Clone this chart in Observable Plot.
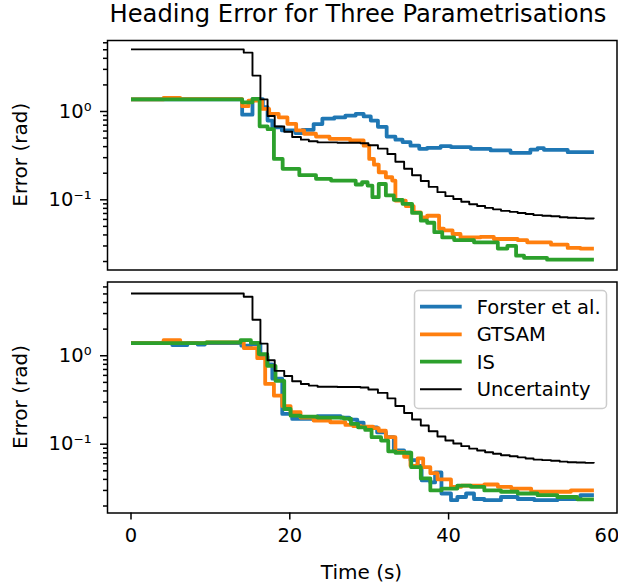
<!DOCTYPE html>
<html><head><meta charset="utf-8">
<script src="https://cdn.jsdelivr.net/npm/d3@7"></script>
<script src="https://cdn.jsdelivr.net/npm/@observablehq/plot@0.6"></script>
<style>
html,body{margin:0;padding:0;background:white;}
#chart{position:relative;width:618px;height:586px;overflow:hidden;font-family:"DejaVu Sans";}
#chart svg{position:absolute;left:0;}
</style></head><body><div id="chart"></div>
<script>
const seriesNames = ["Forster et al.", "GTSAM", "IS", "Uncertainty"];
const seriesColors = ["#1f77b4", "#ff7f0e", "#2ca02c", "black"];
const xTicks = [0, 20, 40, 60];
const yMajorTicks = [0.1, 1];
const yMinorTicks = [0.02,0.03,0.04,0.05,0.06,0.07,0.08,0.09,0.2,0.3,0.4,0.5,0.6,0.7,0.8,0.9,2,3,4,5,6];
const yTickLabels = ["10\u207B\u00B9", "10\u2070"];

// time (s), heading error (rad)
const uncertainty = [[0,5.05],[14.2,4.64],[15.3,2.55],[16.3,1.37],[17.2,0.89],[18.1,0.675],[19.3,0.59],[20.3,0.515],[21.4,0.48],[22.4,0.46],[23.5,0.447],[26.0,0.443],[28.9,0.437],[29.9,0.415],[31.1,0.38],[32.3,0.33],[33.3,0.27],[34.4,0.225],[35.4,0.19],[36.5,0.163],[37.5,0.14],[38.6,0.122],[39.6,0.11],[40.6,0.102],[41.6,0.095],[42.6,0.089],[43.6,0.085],[44.6,0.081],[45.6,0.078],[46.6,0.075],[47.7,0.073],[48.7,0.071],[49.7,0.069],[50.7,0.067],[51.8,0.066],[52.9,0.065],[54.0,0.0635],[55.0,0.0625],[56.1,0.062],[57.2,0.0615],[58.3,0.061]];

const topForster = [[0,1.37],[14.0,0.92],[15.3,1.38],[16.6,1.12],[17.2,0.79],[17.8,0.66],[19.0,0.61],[20.7,0.57],[21.6,0.62],[23.0,0.72],[24.1,0.83],[25.6,0.86],[27.0,0.90],[28.3,0.94],[29.3,0.88],[30.2,0.79],[31.1,0.67],[32.2,0.52],[33.3,0.48],[34.2,0.45],[35.2,0.41],[36.3,0.378],[37.3,0.388],[39.0,0.405],[40.3,0.395],[42.8,0.378],[45.3,0.362],[47.8,0.34],[50.3,0.37],[51.2,0.384],[52.0,0.368],[55.0,0.346],[58.3,0.346]];
const topGTSAM = [[0,1.37],[4.1,1.43],[6.2,1.38],[14.0,1.15],[14.8,1.33],[16.5,1.07],[17.4,0.94],[18.6,0.86],[19.7,0.725],[20.8,0.61],[21.8,0.56],[23.3,0.52],[25.0,0.49],[27.6,0.47],[29.3,0.41],[30.0,0.29],[30.6,0.25],[31.2,0.205],[32.1,0.18],[32.9,0.165],[33.3,0.098],[34.6,0.085],[35.6,0.072],[36.5,0.063],[37.3,0.066],[38.8,0.047],[39.4,0.045],[40.5,0.041],[41.5,0.0375],[44.0,0.038],[45.7,0.036],[48.7,0.035],[49.9,0.033],[52.9,0.031],[55.0,0.0285],[56.6,0.028],[58.3,0.028]];
const topIS = [[0,1.37],[14.0,1.27],[15.3,1.39],[16.2,0.68],[17.2,0.63],[18.0,0.29],[19.1,0.224],[21.2,0.19],[23.3,0.173],[25.2,0.165],[28.3,0.149],[29.1,0.158],[29.8,0.145],[30.4,0.107],[31.2,0.151],[32.1,0.112],[33.1,0.1],[34.2,0.09],[35.4,0.071],[36.5,0.058],[37.3,0.055],[38.2,0.043],[39.2,0.0375],[40.7,0.035],[43.2,0.033],[46.2,0.028],[47.4,0.030],[48.5,0.0233],[49.5,0.022],[52.4,0.021],[58.3,0.021]];

const bottomForster = [[0,1.39],[5.2,1.32],[7.1,1.39],[8.4,1.34],[9.3,1.39],[13.9,1.30],[15.1,1.355],[16.3,0.98],[17.2,0.80],[17.8,0.55],[19.05,0.22],[20.3,0.193],[23.5,0.208],[26.4,0.2],[27.5,0.19],[28.5,0.175],[29.3,0.155],[31.0,0.136],[32.1,0.12],[33.1,0.085],[34.4,0.08],[35.2,0.066],[36.1,0.057],[36.6,0.039],[37.7,0.037],[38.3,0.048],[39.1,0.0277],[40.3,0.0233],[41.1,0.0253],[42.2,0.0277],[43.2,0.024],[44.5,0.0233],[46.6,0.0253],[48.7,0.024],[50.8,0.0233],[53.7,0.024],[56.6,0.0265],[58.3,0.0265]];
const bottomGTSAM = [[0,1.39],[4.1,1.50],[6.2,1.39],[9.5,1.42],[14.2,1.22],[15.9,0.94],[16.9,0.48],[18.0,0.354],[19.05,0.27],[20.1,0.23],[21.35,0.20],[23.0,0.185],[25.1,0.177],[27.0,0.165],[28.0,0.16],[29.0,0.158],[30.5,0.152],[31.2,0.142],[32.1,0.12],[33.3,0.082],[34.4,0.072],[35.2,0.057],[36.1,0.069],[36.8,0.055],[37.7,0.047],[38.6,0.040],[40.3,0.033],[41.6,0.034],[44.5,0.035],[46.2,0.033],[47.9,0.0315],[50.4,0.029],[55.4,0.030],[58.3,0.030]];
const bottomIS = [[0,1.39],[9.5,1.42],[13.8,1.50],[15.1,1.40],[16.1,1.045],[17.16,0.77],[18.2,0.52],[19.3,0.25],[20.1,0.21],[21.35,0.205],[23.5,0.2],[26.8,0.195],[27.7,0.17],[28.6,0.155],[29.5,0.145],[30.3,0.12],[31.5,0.11],[32.4,0.083],[33.3,0.08],[35.3,0.055],[36.5,0.041],[37.7,0.030],[39.1,0.0315],[41.1,0.034],[42.8,0.033],[44.5,0.030],[46.6,0.029],[48.7,0.0277],[51.2,0.0265],[53.7,0.0253],[56.2,0.0238],[58.3,0.0238]];

const chart = document.getElementById("chart");
const W = 618;
const xDomain = [-2.96, 61.21];
const font = {fontFamily: "DejaVu Sans", fontSize: "19.5px", color: "black", background: "transparent", overflow: "visible"};
const tickFmt = d => yTickLabels[yMajorTicks.indexOf(d)];

function panel({top, height, marginTop, marginBottom, yDomain, series, showX}) {
  const widths = [3.8, 3.8, 3.8, 1.9];
  const lines = series.map((s, i) => Plot.line(s, {
    x: d => d[0], y: d => d[1], curve: "step-after",
    stroke: seriesColors[i], strokeWidth: widths[i],
    strokeLinejoin: "round", strokeLinecap: "butt"
  }));
  const xAxisCommon = {tickSize: 7, tickPadding: 8, tickFormat: d => String(d), label: null, strokeWidth: 1.5, stroke: "black", fill: "black"};
  const svg = Plot.plot({
    width: W, height, marginTop, marginBottom, marginLeft: 107, marginRight: 1.5,
    style: font,
    x: {domain: xDomain, axis: null},
    y: {type: "log", domain: yDomain, axis: null},
    marks: [
      ...lines,
      Plot.axisY({ticks: yMinorTicks, tickSize: 4, tickFormat: () => "", strokeWidth: 1.5, stroke: "black"}),
      Plot.axisY({ticks: yMajorTicks, tickSize: 7, tickPadding: 9, tickFormat: tickFmt, strokeWidth: 1.5, stroke: "black", fill: "black"}),
      showX ? Plot.axisX({...xAxisCommon, ticks: xTicks.slice(0, -1)}) : null,
      showX ? Plot.axisX({...xAxisCommon, ticks: xTicks.slice(-1), textAnchor: "end", dx: 12}) : null,
      Plot.frame({stroke: "black", strokeWidth: 1.5})
    ]
  });
  svg.style.top = top + "px";
  chart.appendChild(svg);
}

panel({top: 0, height: 275, marginTop: 40, marginBottom: 5.5,
  yDomain: [Math.pow(10, -1.795), Math.pow(10, 0.804)],
  series: [topForster, topGTSAM, topIS, uncertainty], showX: false});
panel({top: 276, height: 310, marginTop: 5.5, marginBottom: 73.5,
  yDomain: [Math.pow(10, -1.778), Math.pow(10, 0.834)],
  series: [bottomForster, bottomGTSAM, bottomIS, uncertainty], showX: true});

// overlay: title, axis labels, legend
const ov = d3.select(chart).append("svg").attr("width", W).attr("height", 586)
  .style("top", "0px").attr("font-family", "DejaVu Sans").attr("fill", "black");
ov.append("text").attr("x", 358).attr("y", 22).attr("text-anchor", "middle")
  .attr("font-size", 24.2).text("Heading Error for Three Parametrisations");
[154.75, 397].forEach(cy => ov.append("text")
  .attr("transform", `translate(26.5,${cy}) rotate(-90)`).attr("text-anchor", "middle")
  .attr("font-size", 20).text("Error (rad)"));
ov.append("text").attr("x", 361.5).attr("y", 579).attr("text-anchor", "middle")
  .attr("font-size", 20).text("Time (s)");

const lg = ov.append("g");
lg.append("rect").attr("x", 414.5).attr("y", 290.5).attr("width", 192).attr("height", 118)
  .attr("rx", 4).attr("fill", "white").attr("fill-opacity", 0.8).attr("stroke", "#cccccc").attr("stroke-width", 1.5);
const rowY = [306.7, 334.3, 361.7, 389.3];
seriesNames.forEach((name, i) => {
  lg.append("line").attr("x1", 420).attr("x2", 461.7).attr("y1", rowY[i]).attr("y2", rowY[i])
    .attr("stroke", seriesColors[i]).attr("stroke-width", i < 3 ? 3.8 : 1.9);
  lg.append("text").attr("x", 476.7).attr("y", rowY[i] + 7).attr("font-size", 19.5).text(name);
});
</script></body></html>
